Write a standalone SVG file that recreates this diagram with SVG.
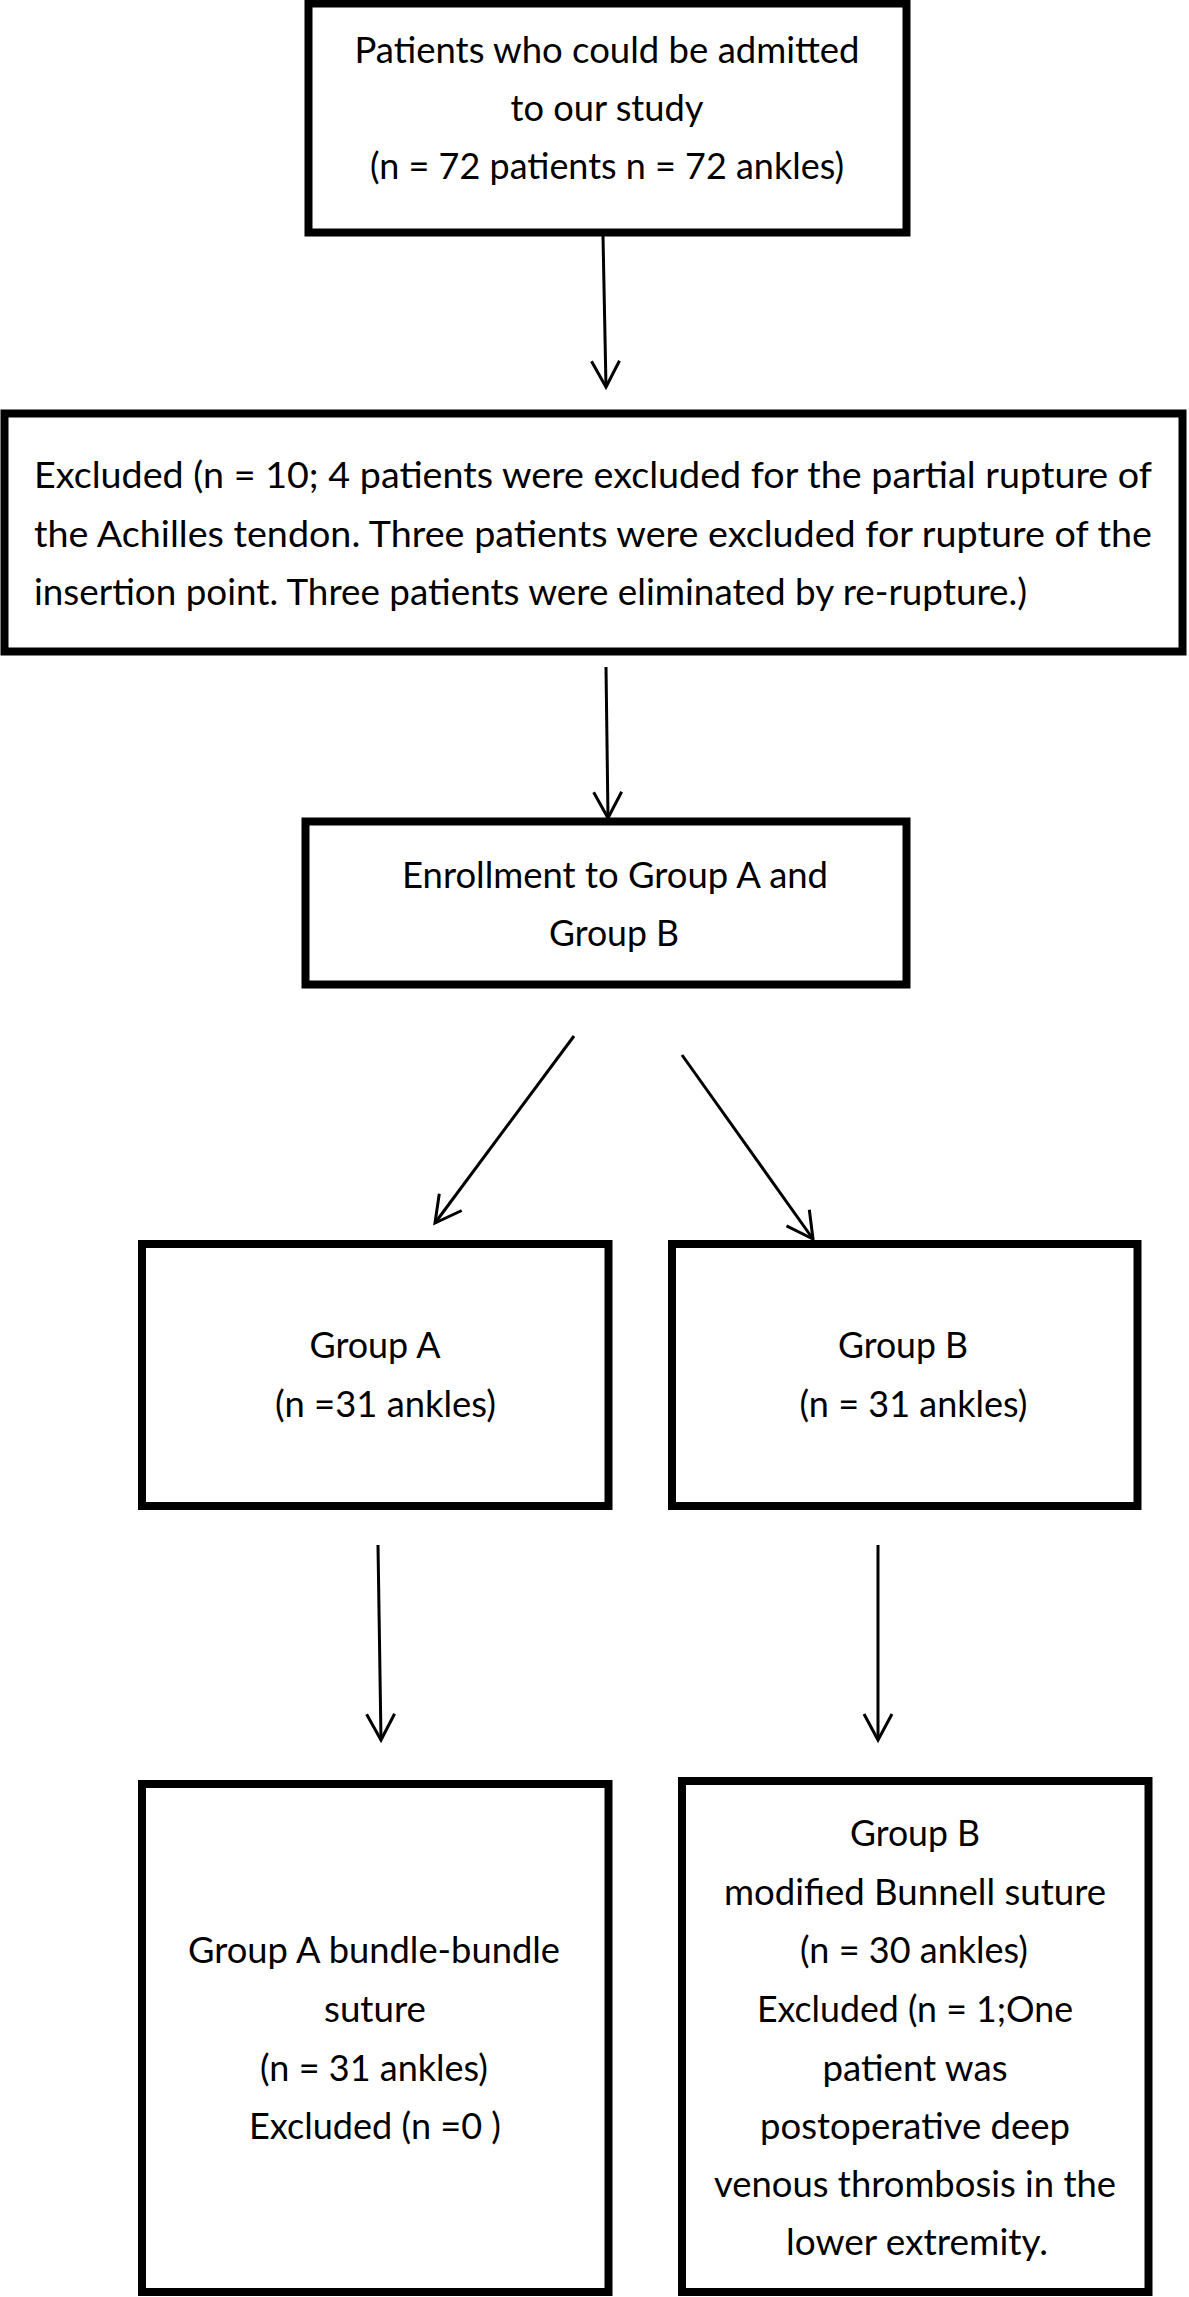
<svg xmlns="http://www.w3.org/2000/svg" width="1189" height="2297" viewBox="0 0 1189 2297">
<style>
.box{fill:#fff;stroke:#000;stroke-width:8;stroke-linejoin:miter}
.t{font-family:Lato,"Liberation Sans",sans-serif;font-size:36px;fill:#000}
.c{text-anchor:middle}
.con{fill:none;stroke:#000;stroke-width:3}
</style>
<defs>
<marker id="ah" markerUnits="userSpaceOnUse" markerWidth="60" markerHeight="60" refX="0" refY="0" orient="auto" style="overflow:visible">
<path d="M-26,-14 L0,0 L-26,14" fill="none" stroke="#000" stroke-width="3"/>
</marker>
</defs>
<rect width="1189" height="2297" fill="#fff"/>
<g id="node-patients">
<rect class="box" x="308.5" y="3.5" width="598" height="229"/>
<text class="t c" x="607" y="63" textLength="505" lengthAdjust="spacingAndGlyphs">Patients who could be admitted</text>
<text class="t c" x="607" y="121" textLength="193" lengthAdjust="spacingAndGlyphs">to our study</text>
<text class="t c" x="607" y="179" textLength="474" lengthAdjust="spacingAndGlyphs">(n = 72 patients n = 72 ankles)</text>
</g>
<g id="node-excluded">
<rect class="box" x="4.5" y="413.5" width="1178" height="238"/>
<text class="t" x="34" y="488" textLength="1118" lengthAdjust="spacingAndGlyphs">Excluded (n = 10; 4 patients were excluded for the partial rupture of</text>
<text class="t" x="34" y="547" textLength="1118" lengthAdjust="spacingAndGlyphs">the Achilles tendon. Three patients were excluded for rupture of the</text>
<text class="t" x="34" y="605" textLength="993" lengthAdjust="spacingAndGlyphs">insertion point. Three patients were eliminated by re-rupture.)</text>
</g>
<g id="node-enrollment">
<rect class="box" x="305.5" y="821.5" width="601" height="163"/>
<text class="t c" x="615" y="887.5" textLength="426" lengthAdjust="spacingAndGlyphs">Enrollment to Group A and</text>
<text class="t c" x="614" y="946" textLength="130" lengthAdjust="spacingAndGlyphs">Group B</text>
</g>
<g id="node-groupA">
<rect class="box" x="142" y="1244" width="466.5" height="262"/>
<text class="t c" x="375" y="1358" textLength="131" lengthAdjust="spacingAndGlyphs">Group A</text>
<text class="t c" x="385.5" y="1417" textLength="221" lengthAdjust="spacingAndGlyphs">(n =31 ankles)</text>
</g>
<g id="node-groupB">
<rect class="box" x="672" y="1244" width="465.5" height="262"/>
<text class="t c" x="903" y="1358" textLength="130" lengthAdjust="spacingAndGlyphs">Group B</text>
<text class="t c" x="913.5" y="1417" textLength="228" lengthAdjust="spacingAndGlyphs">(n = 31 ankles)</text>
</g>
<g id="node-groupA-suture">
<rect class="box" x="142" y="1784" width="466.5" height="508"/>
<text class="t c" x="374" y="1963" textLength="372" lengthAdjust="spacingAndGlyphs">Group A bundle-bundle</text>
<text class="t c" x="375" y="2022" textLength="102" lengthAdjust="spacingAndGlyphs">suture</text>
<text class="t c" x="374" y="2081" textLength="228" lengthAdjust="spacingAndGlyphs">(n = 31 ankles)</text>
<text class="t c" x="375" y="2139" textLength="252" lengthAdjust="spacingAndGlyphs">Excluded (n =0 )</text>
</g>
<g id="node-groupB-suture">
<rect class="box" x="682" y="1781" width="466.5" height="511"/>
<text class="t c" x="915" y="1846" textLength="130" lengthAdjust="spacingAndGlyphs">Group B</text>
<text class="t c" x="915" y="1905" textLength="382" lengthAdjust="spacingAndGlyphs">modified Bunnell suture</text>
<text class="t c" x="914" y="1963" textLength="228" lengthAdjust="spacingAndGlyphs">(n = 30 ankles)</text>
<text class="t c" x="915" y="2022" textLength="316" lengthAdjust="spacingAndGlyphs">Excluded (n = 1;One</text>
<text class="t c" x="915" y="2081" textLength="185" lengthAdjust="spacingAndGlyphs">patient was</text>
<text class="t c" x="915" y="2139" textLength="310" lengthAdjust="spacingAndGlyphs">postoperative deep</text>
<text class="t c" x="915" y="2197" textLength="402" lengthAdjust="spacingAndGlyphs">venous thrombosis in the</text>
<text class="t c" x="917" y="2255" textLength="262" lengthAdjust="spacingAndGlyphs">lower extremity.</text>
</g>
<g id="connectors">
<line class="con" x1="603" y1="236" x2="606" y2="387" marker-end="url(#ah)"/>
<line class="con" x1="606" y1="667" x2="608" y2="818" marker-end="url(#ah)"/>
<line class="con" x1="574" y1="1036" x2="435" y2="1223" marker-end="url(#ah)"/>
<line class="con" x1="682" y1="1055" x2="813" y2="1239" marker-end="url(#ah)"/>
<line class="con" x1="378" y1="1545" x2="381" y2="1740" marker-end="url(#ah)"/>
<line class="con" x1="878" y1="1545" x2="878" y2="1740" marker-end="url(#ah)"/>
</g>
</svg>
